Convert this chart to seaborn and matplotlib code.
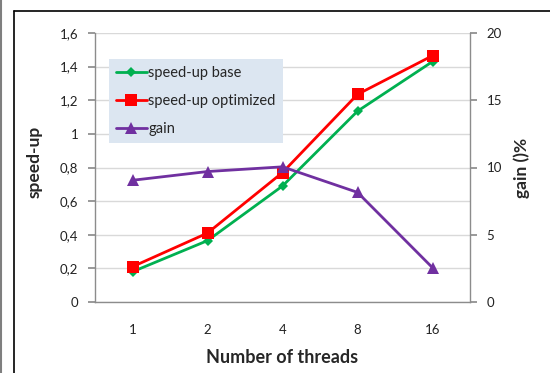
import matplotlib
matplotlib.use("Agg")
import matplotlib.pyplot as plt
from matplotlib.lines import Line2D
import seaborn as sns
import pandas as pd

threads = ["1", "2", "4", "8", "16"]
speedup_base = [0.18, 0.365, 0.69, 1.135, 1.43]
speedup_opt = [0.21, 0.41, 0.77, 1.235, 1.465]
gain = [9.05, 9.7, 10.05, 8.15, 2.55]
left_ticks = [0, 0.2, 0.4, 0.6, 0.8, 1.0, 1.2, 1.4, 1.6]
left_labels = ["0", "0,2", "0,4", "0,6", "0,8", "1", "1,2", "1,4", "1,6"]
right_ticks = [0, 5, 10, 15, 20]

sns.set_theme(style="white")
plt.rcParams["font.family"] = ["Lato", "DejaVu Sans"]

df = pd.DataFrame({"threads": threads, "base": speedup_base,
                   "opt": speedup_opt, "gain": gain})

fig = plt.figure(figsize=(5.5, 3.73), dpi=100)
ax = fig.add_axes([95/550, 1-302/373, 375/550, 269/373])
ax2 = ax.twinx()

green = "#00B050"
red = "#FF0000"
purple = "#7030A0"

sns.lineplot(data=df, x="threads", y="base", ax=ax, color=green, lw=2,
             marker="D", markersize=5, markeredgewidth=0, label="speed-up base", sort=False)
sns.lineplot(data=df, x="threads", y="opt", ax=ax, color=red, lw=2,
             marker="s", markersize=9, markeredgewidth=0, label="speed-up optimized", sort=False)
sns.lineplot(data=df, x="threads", y="gain", ax=ax2, color=purple, lw=2,
             marker="^", markersize=9, markeredgewidth=0, label="gain", sort=False)

h1, l1 = ax.get_legend_handles_labels()
h2, l2 = ax2.get_legend_handles_labels()
if ax.get_legend():
    ax.get_legend().remove()
if ax2.get_legend():
    ax2.get_legend().remove()

ax.set_xlim(-0.5, 4.5)
ax.set_ylim(0, 1.6)
ax.set_yticks(left_ticks)
ax.set_yticklabels(left_labels)
ax2.set_ylim(0, 20)
ax2.set_yticks(right_ticks)

gray = "#8c8c8c"
ax.grid(axis="y", color="#d9d9d9", lw=1)
ax.set_axisbelow(True)
for a in (ax, ax2):
    a.spines["top"].set_visible(False)
    for s in ("left", "right", "bottom"):
        a.spines[s].set_color(gray)
        a.spines[s].set_linewidth(1)
ax.spines["right"].set_visible(False)
ax2.spines["left"].set_visible(False)
ax2.spines["bottom"].set_visible(False)

ax.tick_params(axis="y", left=True, length=5, color=gray, labelsize=9.5, pad=7, labelcolor="#222222")
ax.tick_params(axis="x", bottom=False, labelsize=9.5, pad=10, labelcolor="#222222")
ax2.tick_params(axis="y", right=True, length=5, color=gray, labelsize=9.5, pad=7, labelcolor="#222222")

ax.set_xlabel("Number of threads", fontsize=13, fontweight="bold", labelpad=9)
ax.set_ylabel("speed-up", fontsize=12.5, fontweight="bold", labelpad=5)
ax2.set_ylabel("gain ()%", fontsize=12.5, fontweight="bold", labelpad=8)
ax.yaxis.set_label_coords(-0.139, 0.52)

leg = ax2.legend(h1 + h2, l1 + l2, loc="upper left", bbox_to_anchor=(0.037, 0.903),
                 borderaxespad=0, frameon=True, fancybox=False, fontsize=10.5,
                 handlelength=2.1, handletextpad=0.1, labelspacing=0.95,
                 borderpad=0.5)
leg.get_frame().set_facecolor("#dce6f1")
leg.get_frame().set_edgecolor("none")
leg.get_frame().set_alpha(1)

fig.add_artist(Line2D([1/550, 1/550], [0, 1], color="#7f7f7f", lw=1.5, transform=fig.transFigure))
fig.add_artist(Line2D([13.5/550, 13.5/550], [0, 1-11/373], color="black", lw=1.2, transform=fig.transFigure))
fig.add_artist(Line2D([13.5/550, 1], [1-11/373, 1-11/373], color="black", lw=1.2, transform=fig.transFigure))

fig.savefig("out.png", dpi=100, facecolor="white")
